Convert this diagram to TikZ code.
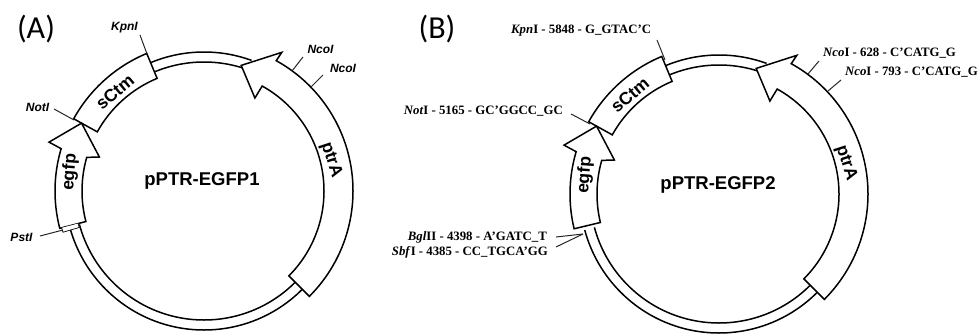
\documentclass[tikz,border=0pt]{standalone}
\usepackage{fontspec}
\setmainfont{Liberation Serif}
\setsansfont{Liberation Sans}
\newfontfamily\calib{Carlito}
\usetikzlibrary{calc}
\tikzset{
  x=1pt,y=1pt,
  gene/.style={draw=black,fill=white,line width=1.5pt,line join=miter},
  backbone/.style={draw=black,line width=1.5pt},
  tick/.style={draw=black!85,line width=1pt},
  panel/.style={font=\calib\fontsize{32}{32}\selectfont,inner sep=0pt},
  title/.style={font=\sffamily\bfseries\fontsize{18.5}{20}\selectfont,inner sep=0pt},
  genelabel/.style={font=\sffamily\bfseries\fontsize{17.5}{18}\selectfont,inner sep=0pt},
  sitea/.style={font=\sffamily\bfseries\itshape\fontsize{12}{13}\selectfont,inner sep=0pt},
  siteb/.style={font=\bfseries\fontsize{12.8}{13}\selectfont,inner sep=0pt},
}
\newcommand{\plasmidshapes}[1]{%
  \draw[backbone] (-45:129) arc[start angle=-45,end angle=-165,radius=129];
  \draw[backbone] (-45:139) arc[start angle=-45,end angle=-165,radius=139];
  \draw[backbone] (70:129) arc[start angle=70,end angle=115,radius=129];
  \draw[backbone] (70:139) arc[start angle=70,end angle=115,radius=139];
  \draw[gene] (-45:149) arc[start angle=-45,end angle=61,radius=149]
     -- (60.7:159) -- (73.5:131) -- (61.3:106) -- (61:120)
     arc[start angle=61,end angle=-45,radius=120] -- cycle;
  \draw[gene] (112.6:149) arc[start angle=112.6,end angle=151,radius=149]
     -- (151:122) arc[start angle=151,end angle=112.6,radius=122] -- cycle;
  \draw[gene] (#1:149) arc[start angle=#1,end angle=163.5,radius=149]
     -- (162.5:162.5) -- (151:140) -- (162:110) -- (164:122)
     arc[start angle=164,end angle=#1,radius=122] -- cycle;
}
\begin{document}
\begin{tikzpicture}
\useasboundingbox (0,0) rectangle (979,333);
% ---------- panel A
\begin{scope}[shift={(204,142)}]
  \plasmidshapes{194.5}
  \draw[gene,line width=.7pt] (194.5:147) -- (196.3:147) -- (196.3:130) -- (194.5:130);
\end{scope}
\node[panel] (pa) at (36,333-29) {(A)};
\node[title] (ta) at (202,333-181) {pPTR-EGFP1};
\node[genelabel,rotate=40] (g1) at (115,333-92) {sCtm};
\node[genelabel,rotate=86] (g2) at (70,333-172) {egfp};
\node[genelabel,rotate=-72] (g3) at (331,333-160) {ptrA};
\node[sitea] (kA) at (124.5,333-28) {\textit{Kpn}I};
\node[sitea] (nA) at (37.5,333-107) {\textit{Not}I};
\node[sitea] (pA) at (21.5,333-237) {\textit{Pst}I};
\node[sitea] (c1A) at (320.5,333-49) {\textit{Nco}I};
\node[sitea] (c2A) at (343,333-68) {\textit{Nco}I};
\coordinate (kA1) at (140,333-35);  \coordinate (kA2) at (147,333-54);
\coordinate (nA1) at (54,333-109);  \coordinate (nA2) at (74,333-120);
\coordinate (pA1) at (40,333-236);  \coordinate (pA2) at (63,333-230);
\coordinate (c1A1) at (303,333-57); \coordinate (c1A2) at (292,333-71);
\coordinate (c2A1) at (323,333-75); \coordinate (c2A2) at (310,333-88);
\foreach \a/\b in {kA1/kA2,nA1/nA2,pA1/pA2,c1A1/c1A2,c2A1/c2A2} \draw[tick] (\a) -- (\b);
% ---------- panel B
\begin{scope}[shift={(719,139)}]
  \plasmidshapes{193.5}
\end{scope}
\node[panel] (pb) at (437,333-29) {(B)};
\node[title] (tb) at (718,333-185) {pPTR-EGFP2};
\node[genelabel,rotate=40] (h1) at (630,333-95) {sCtm};
\node[genelabel,rotate=86] (h2) at (585,333-175) {egfp};
\node[genelabel,rotate=-72] (h3) at (846,333-163) {ptrA};
\node[siteb,anchor=west] (kB) at (511,333-31) {\textit{Kpn}I - 5848 - G\_GTAC'C};
\node[siteb,anchor=east] (nB) at (563,333-111) {\textit{Not}I - 5165 - GC'GGCC\_GC};
\node[siteb,anchor=east] (bB) at (547,333-237) {\textit{Bgl}II - 4398 - A'GATC\_T};
\node[siteb,anchor=east] (sB) at (548,333-252) {\textit{Sbf}I - 4385 - CC\_TGCA'GG};
\node[siteb,anchor=west] (c1B) at (823,333-53) {\textit{Nco}I - 628 - C'CATG\_G};
\node[siteb,anchor=east] (c2B) at (978,333-72) {\textit{Nco}I - 793 - C'CATG\_G};
\coordinate (kB1) at (657,333-40);  \coordinate (kB2) at (665,333-60);
\coordinate (nB1) at (571,333-114); \coordinate (nB2) at (590,333-124);
\coordinate (c1B1) at (819,333-61); \coordinate (c1B2) at (808,333-74);
\coordinate (c2B1) at (841,333-80); \coordinate (c2B2) at (828,333-91);
\coordinate (bB1) at (556,333-237); \coordinate (bB2) at (583,333-234);
\coordinate (sB1) at (556,333-247); \coordinate (sB2) at (583,333-234);
\foreach \a/\b in {kB1/kB2,nB1/nB2,c1B1/c1B2,c2B1/c2B2,bB1/bB2,sB1/sB2} \draw[tick] (\a) -- (\b);
\end{tikzpicture}
\end{document}
